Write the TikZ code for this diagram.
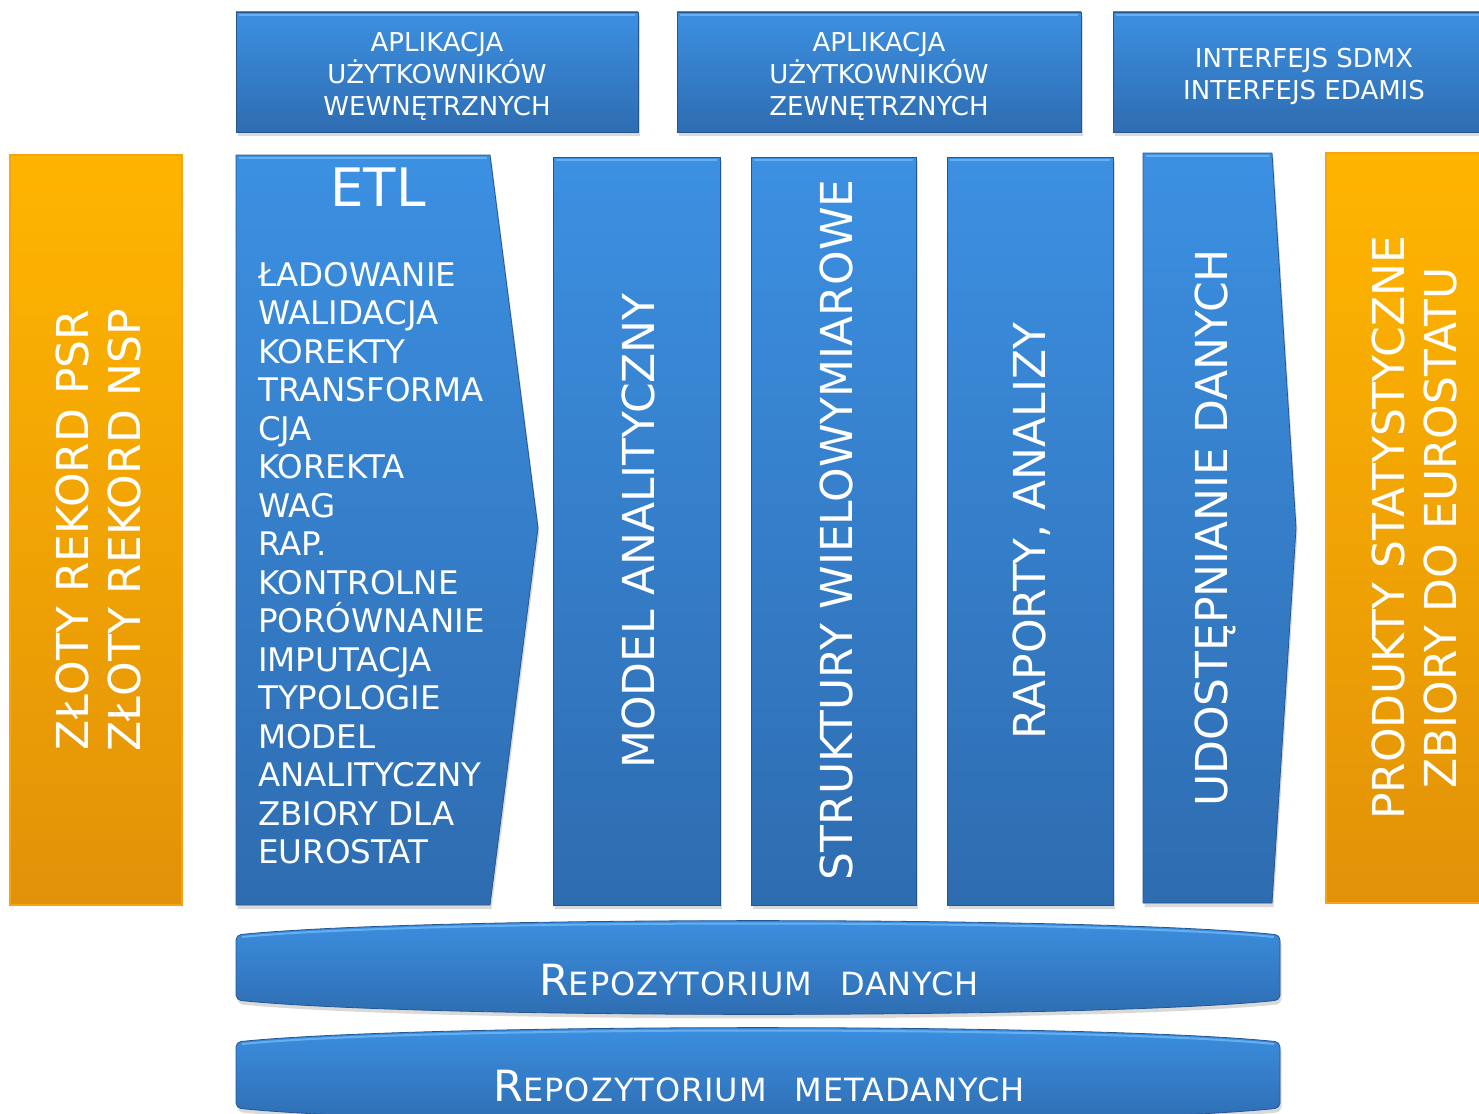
\documentclass[tikz,border=0pt]{standalone}
\usepackage{fontspec}
\setmainfont{DejaVu Sans}
\usetikzlibrary{shadows}
\definecolor{btop}{RGB}{60,144,226}
\definecolor{bbot}{RGB}{46,108,176}
\definecolor{bedge}{RGB}{36,86,146}
\definecolor{bhi}{RGB}{120,190,250}
\definecolor{otop}{RGB}{255,181,0}
\definecolor{obot}{RGB}{226,146,8}
\definecolor{oedge}{RGB}{245,165,20}
\newcommand{\fsz}[2]{\fontsize{#1}{#2}\selectfont}
\newcommand{\repotext}[1]{{\fsz{43}{50}R}{\fsz{32}{40}\addfontfeatures{LetterSpace=3}#1}}
\begin{document}
\begin{tikzpicture}[x=1pt,y=-1pt,
  bluebox/.style={top color=btop,bottom color=bbot,draw=bedge,line width=0.8pt,
    drop shadow={opacity=0.3,shadow xshift=1.5pt,shadow yshift=-4pt}},
  orangebox/.style={top color=otop,bottom color=obot,draw=oedge,line width=1.5pt},
  hiline/.style={draw=bhi,line width=2pt,opacity=0.7},
  lbl/.style={text=white,align=center,inner sep=0pt},
  toplbl/.style={lbl,font=\fsz{26}{32}},
  collbl/.style={lbl,rotate=90,font=\fsz{44}{52}},
]
\useasboundingbox (0,0) rectangle (1479,1113);

% top boxes
\path[bluebox] (236,12) rectangle (638,132);
\path[hiline] (239,15) -- (635,15);
\node[toplbl] (app1) at (437,76) {APLIKACJA\\UŻYTKOWNIKÓW\\WEWNĘTRZNYCH};
\path[bluebox] (677,12) rectangle (1081,132);
\path[hiline] (680,15) -- (1078,15);
\node[toplbl] (app2) at (879,76) {APLIKACJA\\UŻYTKOWNIKÓW\\ZEWNĘTRZNYCH};
\path[bluebox] (1113,12) rectangle (1500,132);
\path[hiline] (1116,15) -- (1500,15);
\node[toplbl] (intf) at (1304,76) {INTERFEJS SDMX\\INTERFEJS EDAMIS};

% left orange
\path[orangebox] (10,155) rectangle (182,905);
\node[collbl] (zloty) at (98,530) {ZŁOTY REKORD PSR\\ZŁOTY REKORD NSP};

% ETL arrow
\path[bluebox] (236,155) -- (490,155) -- (538,528) -- (490,905) -- (236,905) -- cycle;
\path[hiline] (239,158) -- (487,158);
\node[lbl,font=\fsz{53}{60}] (etl) at (378,187) {ETL};
\node[lbl,align=left,anchor=north west,font=\fsz{32.5}{38.5}] (etllist) at (258,262)
 {ŁADOWANIE\\WALIDACJA\\KOREKTY\\TRANSFORMA\\CJA\\KOREKTA\\WAG\\RAP.\\KONTROLNE\\PORÓWNANIE\\IMPUTACJA\\TYPOLOGIE\\MODEL\\ANALITYCZNY\\ZBIORY DLA\\EUROSTAT};

% columns
\path[bluebox] (553,157) rectangle (720,905);
\path[hiline] (556,160) -- (717,160);
\node[collbl] (model) at (638,531) {MODEL ANALITYCZNY};
\path[bluebox] (751,157) rectangle (916,905);
\path[hiline] (754,160) -- (913,160);
\node[collbl] (struk) at (836,530) {STRUKTURY WIELOWYMIAROWE};
\path[bluebox] (947,157) rectangle (1113,905);
\path[hiline] (950,160) -- (1110,160);
\node[collbl] (rap) at (1032,531) {RAPORTY, ANALIZY};

% UDOSTEPNIANIE arrow
\path[bluebox] (1143,153) -- (1272,153) -- (1296,528) -- (1272,903) -- (1143,903) -- cycle;
\path[hiline] (1146,156) -- (1269,156);
\node[collbl] (udost) at (1215,528) {UDOSTĘPNIANIE DANYCH};

% right orange
\path[orangebox] (1326,153) rectangle (1495,903);
\node[collbl] (prod) at (1414,528) {PRODUKTY STATYSTYCZNE\\ZBIORY DO EUROSTATU};

% repositories
\path[bluebox,rounded corners=5pt] (236,935) .. controls (420,916) and (1096,916) .. (1280,935)
  -- (1280,1000) .. controls (1096,1019) and (420,1019) .. (236,1000) -- cycle;
\path[hiline] (242,937) .. controls (420,919) and (1096,919) .. (1274,937);
\node[lbl] (repo1) at (759,980) {\repotext{EPOZYTORIUM}\hspace*{28pt}{\fsz{32}{40}\addfontfeatures{LetterSpace=3}DANYCH}};

\path[bluebox,rounded corners=5pt] (236,1042) .. controls (420,1023) and (1096,1023) .. (1280,1042)
  -- (1280,1108) .. controls (1096,1127) and (420,1127) .. (236,1108) -- cycle;
\path[hiline] (242,1044) .. controls (420,1026) and (1096,1026) .. (1274,1044);
\node[lbl] (repo2) at (759,1086) {\repotext{EPOZYTORIUM}\hspace*{28pt}{\fsz{32}{40}\addfontfeatures{LetterSpace=3}METADANYCH}};
\end{tikzpicture}
\end{document}
